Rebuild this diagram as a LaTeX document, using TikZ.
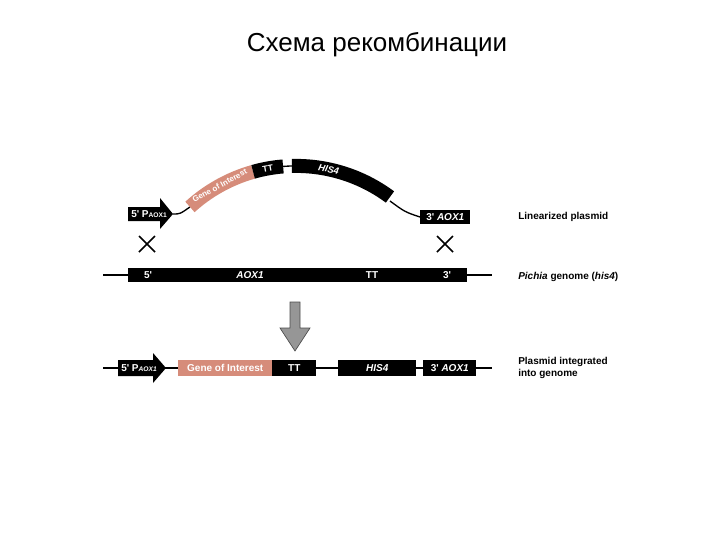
\documentclass[tikz,border=0pt]{standalone}
\usepackage{fontspec}
\setmainfont{Liberation Sans}
\usetikzlibrary{calc}
\definecolor{pinkg}{RGB}{214,140,122}
\definecolor{grayarr}{RGB}{150,150,150}
\begin{document}
\begin{tikzpicture}[x=0.75pt,y=0.75pt,
  lbl/.style={font=\bfseries\fontsize{7.5}{8}\selectfont,text=white,inner sep=0},
  side/.style={font=\bfseries\fontsize{7.5}{9}\selectfont,anchor=west,align=left,inner sep=0},
  blk/.style={fill=black},
  thin/.style={line width=1pt}]
\useasboundingbox (0,0) rectangle (720,-540);
\node (title) at (377,-45) {\fontsize{19.5}{22}\selectfont Схема рекомбинации};
% ---- top plasmid
\fill[blk] (128,-207) -- (160,-207) -- (160,-198) -- (173,-214) -- (160,-229) -- (160,-221) -- (128,-221) -- cycle;
\node[lbl,anchor=west] (p1) at (131,-214) {5\textquotesingle\ P\fontsize{5}{6}\selectfont AOX1};
\coordinate (ctr) at (296,-323.5);
\def\R{157.6}
\coordinate (gs) at ($(ctr)+(132.3:\R)$);
\draw[thin] (173,-214) .. controls (180,-214) .. (gs);
\draw[pinkg,line width=10.5pt] (gs) arc (132.3:105.8:\R);
\draw[black,line width=10.5pt] ($(ctr)+(105.8:\R)$) arc (105.8:94.7:\R);
\draw[thin] ($(ctr)+(94.7:\R)$) arc (94.7:91.5:\R);
\draw[black,line width=10.5pt] ($(ctr)+(91.5:\R)$) arc (91.5:53.4:\R) coordinate (he);
\node[lbl,rotate=29,font=\bfseries\fontsize{6}{7}\selectfont] (goi) at ($(ctr)+(119:\R)$) {Gene of Interest};
\node[lbl,rotate=10,font=\bfseries\fontsize{6.5}{7}\selectfont] (tt1) at ($(ctr)+(100.3:\R)$) {TT};
\node[lbl,rotate=-12,font=\bfseries\itshape\fontsize{7}{8}\selectfont] (his1) at ($(ctr)+(78:\R)$) {HIS4};
\node[blk,minimum width=37.5pt,minimum height=10.5pt,inner sep=0,anchor=west] (a3) at (420,-217) {};
\node[lbl] at (a3) {3\textquotesingle\ \itshape AOX1};
\draw[thin] ($(he)+(0,-4)$) .. controls (405,-212) .. (a3.west);
\node[side] (lp) at (518,-217) {Linearized plasmid};
% crosses
\foreach \cx/\nm in {147/xa,445/xb}{
  \coordinate (\nm) at (\cx,-244);
  \draw[line width=1.3pt] ($(\nm)+(-8,-8)$) -- ($(\nm)+(8,8)$) ($(\nm)+(-8,8)$) -- ($(\nm)+(8,-8)$);}
% ---- genome
\coordinate (gl) at (103,-275); \coordinate (gr) at (492,-275);
\draw[thin] (gl) -- (gr);
\node[blk,minimum width=254pt,minimum height=10.5pt,inner sep=0,anchor=west] (gen) at (128,-275) {};
\node[lbl] at (148,-275) {5\textquotesingle};
\node[lbl,font=\bfseries\itshape\fontsize{7.5}{8}\selectfont] at (250,-275) {AOX1};
\node[lbl] at (372,-275) {TT};
\node[lbl] at (447,-275) {3\textquotesingle};
\node[side] (pg) at (518,-277) {\itshape Pichia\upshape\ genome (\itshape his4\upshape)};
% gray arrow
\filldraw[fill=grayarr,draw=black!70,line width=0.5pt] (290,-302) -- (300,-302) -- (300,-328) -- (310,-328) -- (295,-351) -- (280,-328) -- (290,-328) -- cycle;
% ---- bottom
\draw[thin] (103,-368) -- (492,-368);
\fill[blk] (118,-360) -- (153,-360) -- (153,-353) -- (166,-368) -- (153,-383) -- (153,-376) -- (118,-376) -- cycle;
\node[lbl,anchor=west] (p2) at (121,-368) {5\textquotesingle\ P\fontsize{5}{6}\selectfont\itshape AOX1};
\node[fill=pinkg,minimum width=70.5pt,minimum height=12pt,inner sep=0,anchor=west] (g2) at (178,-368) {};
\node[lbl] at (g2) {Gene of Interest};
\node[blk,minimum width=33pt,minimum height=12pt,inner sep=0,anchor=west] (t2) at (272,-368) {};
\node[lbl] at (t2) {TT};
\node[blk,minimum width=58.5pt,minimum height=12pt,inner sep=0,anchor=west] (h2) at (338,-368) {};
\node[lbl,font=\bfseries\itshape\fontsize{7.5}{8}\selectfont] at (h2) {HIS4};
\node[blk,minimum width=39.75pt,minimum height=12pt,inner sep=0,anchor=west] (a32) at (423,-368) {};
\node[lbl] at (a32) {3\textquotesingle\ \itshape AOX1};
\node[side,anchor=north west] (pi) at (518,-357) {Plasmid integrated\\into genome};
\end{tikzpicture}
\end{document}
